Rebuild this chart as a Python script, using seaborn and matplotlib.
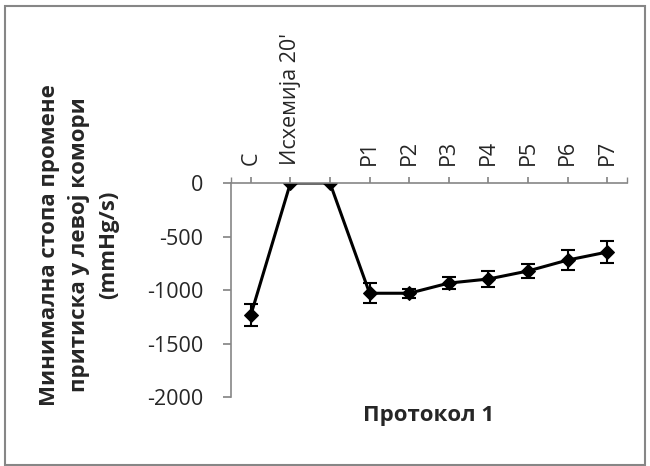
import numpy as np
import pandas as pd
import matplotlib
matplotlib.use("Agg")
import matplotlib.pyplot as plt
import seaborn as sns
from matplotlib.patches import Rectangle

# Data
categories = ["C", "Исхемија 20'", "", "P1", "P2", "P3", "P4", "P5", "P6", "P7"]
values = [-1234, 0, 0, -1030, -1030, -935, -897, -822, -720, -645]
errors = [100, 0, 0, 95, 40, 55, 75, 70, 90, 100]
y_ticks = [0, -500, -1000, -1500, -2000]

df = pd.DataFrame({"pos": np.arange(len(categories)), "value": values, "err": errors})

sns.set_theme(style="white")
plt.rcParams['font.family'] = ['Open Sans', 'DejaVu Sans']

fig = plt.figure(figsize=(6.5, 4.66), dpi=100)
ax = fig.add_axes([0.3554, 0.148, 0.6092, 0.4592])

# Line with diamond markers
sns.lineplot(data=df, x="pos", y="value", color="black", linewidth=2.2,
             marker="D", markersize=7, markeredgecolor="black", ax=ax)

# Error bars
ax.errorbar(df["pos"], df["value"], yerr=df["err"], fmt="none",
            ecolor="black", elinewidth=1.5, capsize=5, capthick=1.5)

ax.set_xlim(-0.5, len(categories) - 0.5)
ax.set_ylim(-2000, 0)
ax.set_yticks(y_ticks)
ax.set_yticklabels([str(v) for v in y_ticks], fontsize=15.5)

ax.set_xticks(df["pos"])
ax.set_xticklabels(categories, rotation=90, fontsize=15.5)
ax.set_xticks([-0.5, len(categories) - 0.5], minor=True)
ax.xaxis.tick_top()
ax.tick_params(axis="x", which="both", direction="out", length=4, color="#868686", pad=9)
ax.tick_params(axis="y", direction="out", length=6, color="#868686", pad=14, left=True)
ax.set_xlabel("")
ax.set_ylabel("")

for side in ["bottom", "right"]:
    ax.spines[side].set_visible(False)
for side in ["left", "top"]:
    ax.spines[side].set_color("#868686")
    ax.spines[side].set_linewidth(1.2)

ax.text(0.5, -0.085, "Протокол 1", transform=ax.transAxes, ha="center", va="center",
        fontsize=16, fontweight="bold")

fig.text(79 / 650, 1 - 245 / 466,
         "Минимална стопа промене\nпритиска у левој комори\n(mmHg/s)",
         rotation=90, ha="center", va="center", fontsize=16, fontweight="bold",
         linespacing=1.5, multialignment="center")

# Chart area border
fig.patches.append(Rectangle((5 / 650, 1 / 466), 640 / 650, 459 / 466, transform=fig.transFigure,
                             fill=False, edgecolor="#868686", linewidth=1.5))

fig.savefig("out.png", dpi=100)
